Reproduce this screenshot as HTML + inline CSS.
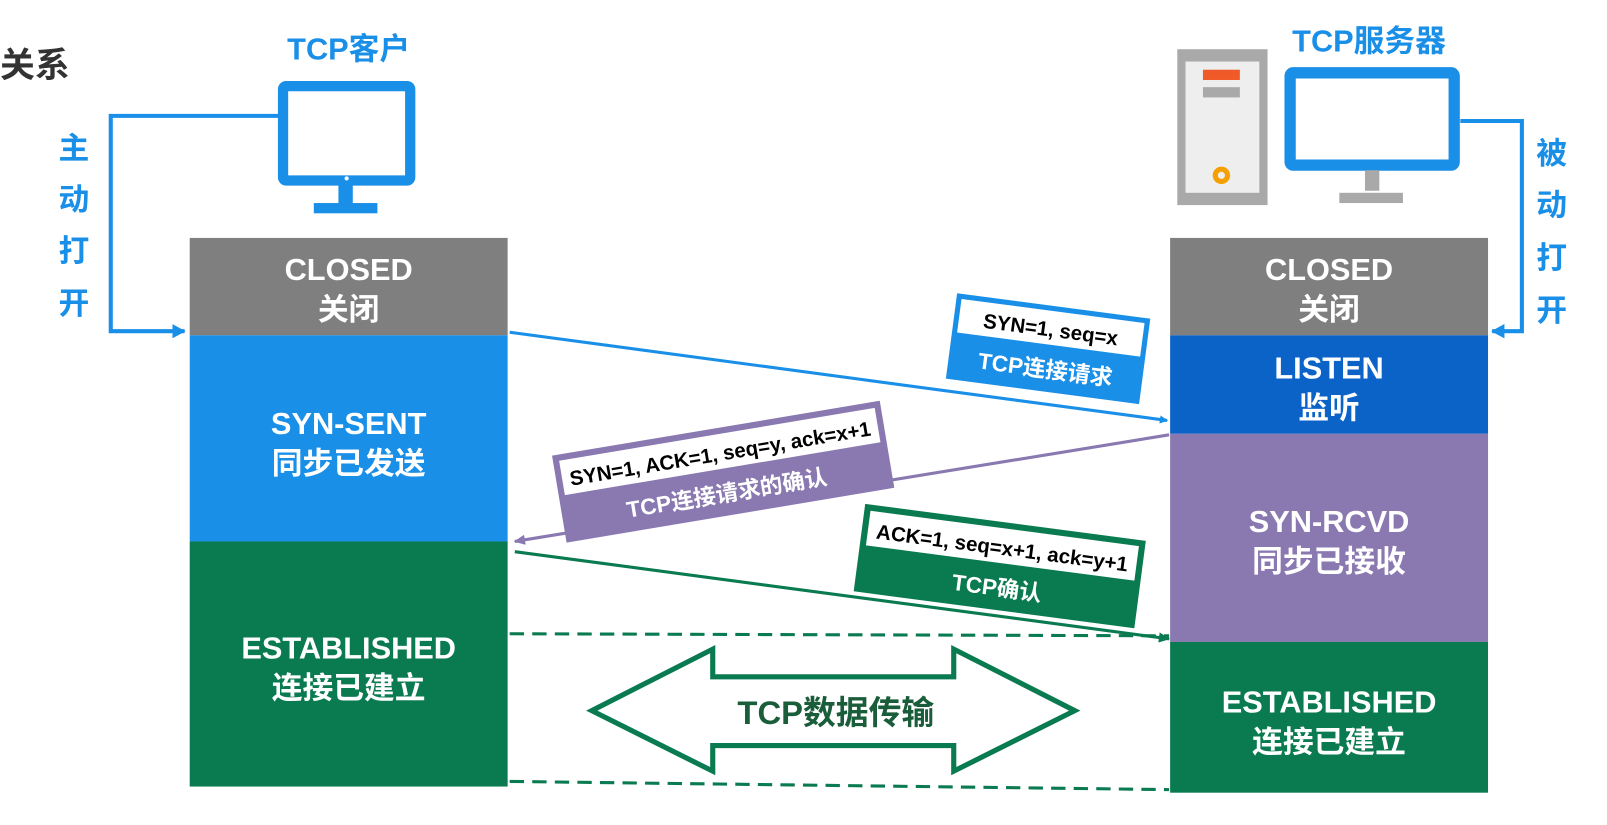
<!DOCTYPE html>
<html><head><meta charset="utf-8"><style>
html,body{margin:0;padding:0;background:#fff;width:1607px;height:825px;overflow:hidden}
svg{display:block}
text{font-family:"Liberation Sans","Noto Sans CJK SC",sans-serif;font-weight:bold}
</style></head><body>
<svg width="1607" height="825" viewBox="0 0 1567 804.5" preserveAspectRatio="none">
<defs>
<marker id="ab" markerWidth="8" markerHeight="8" refX="7" refY="4" orient="auto" markerUnits="userSpaceOnUse"><path d="M0,0 L8,4 L0,8 z" fill="#1a8fe8"/></marker>
<marker id="ap" markerWidth="12" markerHeight="10" refX="10" refY="5" orient="auto" markerUnits="userSpaceOnUse"><path d="M0,0 L11,5 L0,10 z" fill="#8a78b0"/></marker>
<marker id="ag" markerWidth="12" markerHeight="10" refX="10" refY="5" orient="auto" markerUnits="userSpaceOnUse"><path d="M0,0 L11,5 L0,10 z" fill="#0a7a50"/></marker>
<marker id="ak" markerWidth="14" markerHeight="14" refX="12" refY="7" orient="auto" markerUnits="userSpaceOnUse"><path d="M0,0 L13,7 L0,14 z" fill="#1a8fe8"/></marker>
</defs>
<text x="0" y="75" font-size="34" fill="#333">关系</text>
<text x="340" y="58" font-size="30" fill="#1a8fe8" text-anchor="middle">TCP客户</text>
<rect x="276" y="84" width="124" height="92" fill="#fff" stroke="#1a8fe8" stroke-width="10" rx="3"/>
<rect x="330" y="180" width="14" height="20" fill="#1a8fe8"/>
<rect x="306" y="198" width="62" height="10" fill="#1a8fe8"/>
<circle cx="338" cy="174" r="2" fill="#fff"/>
<polyline points="272,113 108,113 108,323 180,323" fill="none" stroke="#1a8fe8" stroke-width="4" marker-end="url(#ak)"/>
<g font-size="30" fill="#1a8fe8" text-anchor="middle">
<text x="72" y="155">主</text><text x="72" y="205">动</text><text x="72" y="255">打</text><text x="72" y="306">开</text>
</g>
<text x="1335" y="50" font-size="30" fill="#1a8fe8" text-anchor="middle">TCP服务器</text>
<rect x="1148" y="48" width="88" height="152" fill="#a9a9a9"/>
<rect x="1156" y="60" width="72" height="128" fill="#eeeeee"/>
<rect x="1173" y="68" width="36" height="10" fill="#f05a28"/>
<rect x="1173" y="85" width="36" height="10" fill="#a9a9a9"/>
<circle cx="1191" cy="171" r="6" fill="none" stroke="#f5a000" stroke-width="5"/>
<rect x="1258" y="71" width="160" height="90" fill="#fff" stroke="#1a8fe8" stroke-width="11" rx="3"/>
<rect x="1331" y="166" width="14" height="20" fill="#a9a9a9"/>
<rect x="1306" y="188" width="62" height="10" fill="#a9a9a9"/>
<polyline points="1424,118 1484,118 1484,323 1455,323" fill="none" stroke="#1a8fe8" stroke-width="4" marker-end="url(#ak)"/>
<g font-size="30" fill="#1a8fe8" text-anchor="middle">
<text x="1513" y="160">被</text><text x="1513" y="210">动</text><text x="1513" y="262">打</text><text x="1513" y="313">开</text>
</g>
<rect x="185" y="232" width="310" height="95" fill="#7f7f7f"/>
<rect x="185" y="327" width="310" height="201" fill="#1a8fe8"/>
<rect x="185" y="528" width="310" height="239" fill="#0a7a50"/>
<g font-size="30" fill="#fff" text-anchor="middle">
<text x="340" y="273">CLOSED</text><text x="340" y="312">关闭</text>
<text x="340" y="423">SYN-SENT</text><text x="340" y="462">同步已发送</text>
<text x="340" y="642">ESTABLISHED</text><text x="340" y="681">连接已建立</text>
</g>
<rect x="1141" y="232" width="310" height="95" fill="#7f7f7f"/>
<rect x="1141" y="327" width="310" height="96" fill="#0b63c8"/>
<rect x="1141" y="423" width="310" height="203" fill="#8a78b0"/>
<rect x="1141" y="626" width="310" height="147" fill="#0a7a50"/>
<g font-size="30" fill="#fff" text-anchor="middle">
<text x="1296" y="273">CLOSED</text><text x="1296" y="312">关闭</text>
<text x="1296" y="369">LISTEN</text><text x="1296" y="408">监听</text>
<text x="1296" y="519">SYN-RCVD</text><text x="1296" y="558">同步已接收</text>
<text x="1296" y="695">ESTABLISHED</text><text x="1296" y="734">连接已建立</text>
</g>
<line x1="497" y1="324" x2="1138" y2="410" stroke="#1a8fe8" stroke-width="3" marker-end="url(#ab)"/>
<line x1="1140" y1="424" x2="502" y2="528" stroke="#8a78b0" stroke-width="3" marker-end="url(#ap)"/>
<line x1="502" y1="538" x2="1140" y2="623" stroke="#0a7a50" stroke-width="3" marker-end="url(#ag)"/>
<line x1="497" y1="618" x2="1140" y2="620" stroke="#0a7a50" stroke-width="3" stroke-dasharray="14,8"/>
<line x1="497" y1="762" x2="1140" y2="770" stroke="#0a7a50" stroke-width="3" stroke-dasharray="14,8"/>
<g transform="translate(1022,340) rotate(7.5)">
<rect x="-95" y="-42" width="190" height="84" fill="#1a8fe8"/>
<rect x="-90" y="-37" width="180" height="33" fill="#fff"/>
<text x="0" y="-12" font-size="20" fill="#000" text-anchor="middle">SYN=1, seq=x</text>
<text x="0" y="28" font-size="22" fill="#fff" text-anchor="middle" font-weight="normal">TCP连接请求</text>
</g>
<g transform="translate(705,459) rotate(-9.5)">
<rect x="-162" y="-42" width="324" height="86" fill="#8a78b0"/>
<rect x="-156" y="-36" width="312" height="34" fill="#fff"/>
<text x="0" y="-10" font-size="20" fill="#000" text-anchor="middle">SYN=1,  ACK=1,  seq=y, ack=x+1</text>
<text x="0" y="30" font-size="22" fill="#fff" text-anchor="middle" font-weight="normal">TCP连接请求的确认</text>
</g>
<g transform="translate(975,551) rotate(7.5)">
<rect x="-138" y="-42" width="276" height="86" fill="#0a7a50"/>
<rect x="-132" y="-36" width="264" height="34" fill="#fff"/>
<text x="0" y="-10" font-size="20" fill="#000" text-anchor="middle">ACK=1,  seq=x+1, ack=y+1</text>
<text x="0" y="30" font-size="22" fill="#fff" text-anchor="middle" font-weight="normal">TCP确认</text>
</g>
<polygon points="577,693 695,633 695,660 930,660 930,633 1048,693 930,752 930,727 695,727 695,752" fill="#fff" stroke="#0a7a50" stroke-width="5" stroke-linejoin="miter"/>
<text x="815" y="706" font-size="32" fill="#1a5d3a" text-anchor="middle">TCP数据传输</text>
</svg>
</body></html>
